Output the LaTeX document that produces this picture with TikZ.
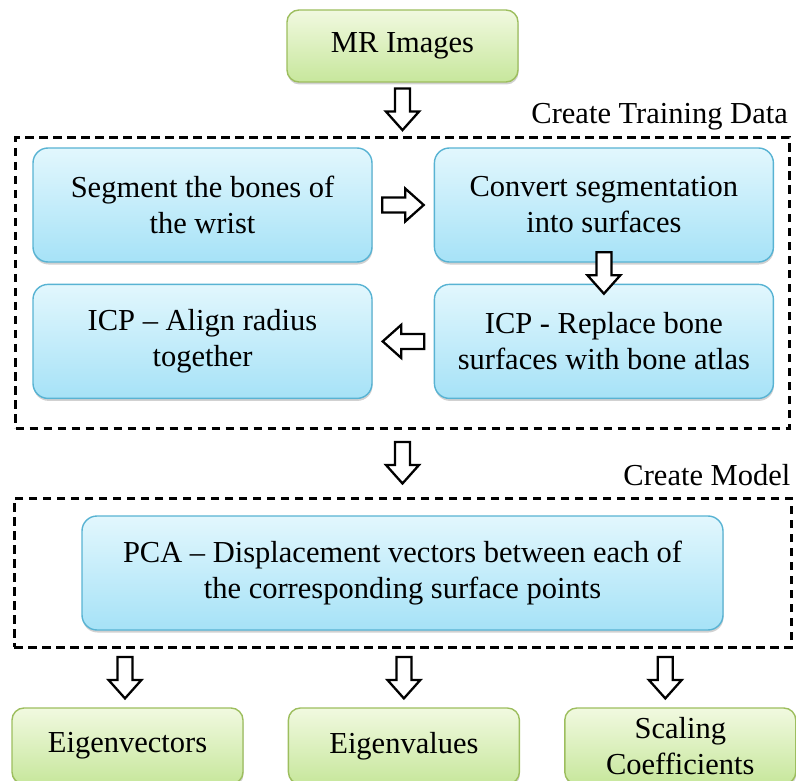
\documentclass[tikz,border=0pt]{standalone}
\usepackage{fontspec}
\setmainfont{Liberation Serif}
\usetikzlibrary{positioning,calc,shadows}

\definecolor{stepTop}{HTML}{E2F7FD}
\definecolor{stepBot}{HTML}{A6E2F7}
\definecolor{stepLine}{HTML}{58B3D3}
\definecolor{dataTop}{HTML}{F1F9E0}
\definecolor{dataBot}{HTML}{C7E79C}
\definecolor{dataLine}{HTML}{9DBE5E}

% Blockpfeil: Name, Mittelpunkt, Drehwinkel
\newcommand\flowarrow[3]{%
  \coordinate (#1) at (#2);
  \draw[flowarrowline, shift={(#1)}, rotate=#3]
    (-21,-7.5) -- (2,-7.5) -- (2,-16.5) -- (20.5,0) -- (2,16.5) -- (2,7.5) -- (-21,7.5) -- cycle;}

\begin{document}
\begin{tikzpicture}[
      x=1pt, y=1pt,
      every node/.style={font=\fontsize{30.5}{36}\selectfont, align=center, inner sep=0pt},
      stepbox/.style={draw=stepLine, line width=1.4pt, rounded corners=15pt,
        top color=stepTop, bottom color=stepBot,
        minimum width=339pt, minimum height=114pt,
        drop shadow={shadow xshift=0.5pt, shadow yshift=-2.5pt, opacity=0.3, fill=black!60}},
      databox/.style={draw=dataLine, line width=1.4pt, rounded corners=12pt,
        top color=dataTop, bottom color=dataBot,
        minimum width=231pt, minimum height=72pt,
        drop shadow={shadow xshift=0.5pt, shadow yshift=-2.5pt, opacity=0.3, fill=black!60}},
      groupbox/.style={draw=black, line width=3pt, dash pattern=on 8.5pt off 5.5pt},
      flowarrowline/.style={draw=black, fill=white, line width=2.3pt, line join=miter}
    ]
  \useasboundingbox (0,0) rectangle (796,-781);

  % --- Eingangsdaten ---
  \node[databox] (mr) at (402.5,-46) {MR Images};

  % --- Trainingsdaten ---
  \node[groupbox, minimum width=774pt, minimum height=290pt] (train) at (402.5,-283) {};
  \node[anchor=base east] (trainlbl) at ($(train.north east)+(-3,13)$) {Create Training Data};

  \node[stepbox] (seg) at (202.5,-205) {Segment the bones of\\the wrist};
  \node[stepbox, right=61pt of seg] (conv) {Convert segmentation\\into surfaces};
  \node[stepbox, below=21pt of conv] (repl) {ICP - Replace bone\\surfaces with bone atlas};
  \node[stepbox, below=21pt of seg] (align) {ICP -- Align radius\\together};

  % --- Modell ---
  \node[groupbox, minimum width=777pt, minimum height=149pt] (model) at (402.5,-572.5) {};
  \node[anchor=base east] (modellbl) at ($(model.north east)+(-2,11)$) {Create Model};

  \node[stepbox, minimum width=641pt] (pca) at (402.5,-573)
    {PCA -- Displacement vectors between each of\\the corresponding surface points};

  % --- Ergebnisse ---
  \node[databox, minimum height=76pt] (evec) at (127.5,-746) {Eigenvectors};
  \node[databox, minimum height=76pt, right=44pt of evec] (evals) {Eigenvalues};
  \node[databox, minimum height=76pt, right=44pt of evals] (scal) {Scaling\\Coefficients};

  % Blockpfeile zwischen den Schritten
  \flowarrow{a1}{$(mr.south)!.5!(train.north)$}{270}
  \flowarrow{a2}{$(seg.east)!.5!(conv.west)$}{0}
  \flowarrow{a3}{$(conv.south)!.5!(repl.north)$}{270}
  \flowarrow{a4}{$(repl.west)!.5!(align.east)$}{180}
  \flowarrow{a5}{$(train.south)!.5!(model.north)$}{270}
  \foreach \b/\dx in {evec/-2.5, evals/0, scal/-15} {
    \flowarrow{to\b}{$(\b.north)!.5!(\b.north |- model.south)+(\dx,0)$}{270}
  }
\end{tikzpicture}
\end{document}
